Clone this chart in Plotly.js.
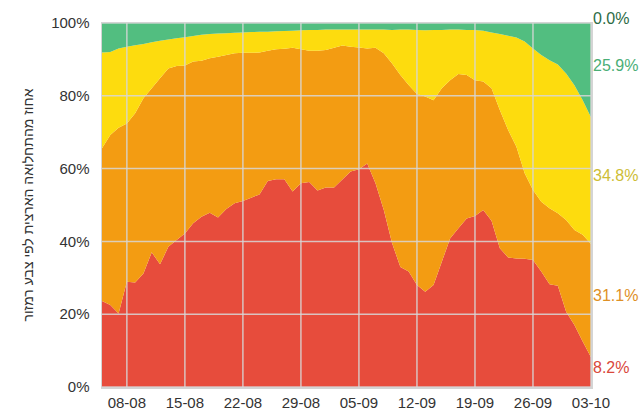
<!DOCTYPE html>
<html>
<head>
<meta charset="utf-8">
<script src="https://cdn.plot.ly/plotly-3.0.1.min.js"></script>
<style>html,body{margin:0;padding:0;background:#fff;}#chart{width:639px;height:412px;}</style>
</head>
<body>
<div id="chart"></div>
<script>
const dates = [
 "2020-08-05","2020-08-06","2020-08-07","2020-08-08","2020-08-09","2020-08-10","2020-08-11","2020-08-12","2020-08-13","2020-08-14",
 "2020-08-15","2020-08-16","2020-08-17","2020-08-18","2020-08-19","2020-08-20","2020-08-21","2020-08-22","2020-08-23","2020-08-24",
 "2020-08-25","2020-08-26","2020-08-27","2020-08-28","2020-08-29","2020-08-30","2020-08-31","2020-09-01","2020-09-02","2020-09-03",
 "2020-09-04","2020-09-05","2020-09-06","2020-09-07","2020-09-08","2020-09-09","2020-09-10","2020-09-11","2020-09-12","2020-09-13",
 "2020-09-14","2020-09-15","2020-09-16","2020-09-17","2020-09-18","2020-09-19","2020-09-20","2020-09-21","2020-09-22","2020-09-23",
 "2020-09-24","2020-09-25","2020-09-26","2020-09-27","2020-09-28","2020-09-29","2020-09-30","2020-10-01","2020-10-02","2020-10-03"
];
const red = [23.6,22.5,20.2,28.9,28.7,31.2,37.0,33.7,38.5,40.4,42.2,45.0,46.8,47.9,46.6,48.9,50.5,51.1,52.0,52.9,
 56.6,57.1,57.1,53.7,56.0,56.3,54.0,54.8,54.8,57.0,59.2,59.8,61.4,56.0,48.6,39.5,33.0,31.7,28.0,26.2,
 28.0,34.4,40.8,43.6,46.3,47.0,48.6,45.7,38.1,35.6,35.3,35.2,34.9,31.7,28.2,27.8,20.7,17.0,12.5,8.2];
const orange = [42.0,46.7,51.0,43.5,46.5,48.1,45.1,51.1,49.0,47.8,46.1,44.4,42.8,42.4,44.1,42.3,41.2,40.7,39.8,39.0,
 35.8,35.7,35.8,39.5,36.8,36.1,38.4,37.8,38.4,36.8,34.3,33.5,31.6,37.2,43.1,49.4,52.7,51.3,52.5,53.6,
 50.8,47.7,43.5,42.4,39.4,37.3,35.3,36.4,38.0,35.0,30.7,23.5,19.2,19.2,20.9,19.9,25.2,26.1,29.3,31.1];
const yellow = [26.3,22.8,21.8,21.1,18.7,14.9,12.6,10.3,8.0,7.6,7.8,7.0,7.2,6.7,6.4,6.0,5.6,5.6,5.7,5.7,
 5.2,4.9,4.9,4.7,5.2,5.7,5.7,5.6,5.0,4.4,4.7,4.9,5.2,5.0,6.5,9.2,12.5,15.2,17.6,18.2,
 19.3,16.0,13.9,12.2,12.4,13.8,14.0,15.3,20.9,25.9,30.0,36.2,38.9,40.3,40.7,40.9,40.2,39.8,37.0,34.8];
const green = [8.1,8.0,7.0,6.5,6.1,5.8,5.3,4.9,4.5,4.2,3.9,3.6,3.2,3.0,2.9,2.8,2.7,2.6,2.5,2.4,
 2.4,2.3,2.2,2.1,2.0,1.9,1.9,1.8,1.8,1.8,1.8,1.8,1.8,1.8,1.8,1.9,1.8,1.8,1.9,2.0,
 1.9,1.9,1.8,1.8,1.9,1.9,2.1,2.6,3.0,3.5,4.0,5.1,7.0,8.8,10.2,11.4,13.9,17.1,21.2,25.9];
const darkGreen = [0,0,0,0,0,0,0,0,0,0,0,0,0,0,0,0,0,0,0,0,0,0,0,0,0,0,0,0,0,0,
 0,0,0,0,0,0,0,0,0,0,0,0,0,0,0,0,0,0,0,0,0,0,0,0,0,0,0,0,0,0.0];

const xTicks = ["2020-08-08","2020-08-15","2020-08-22","2020-08-29","2020-09-05","2020-09-12","2020-09-19","2020-09-26","2020-10-03"];
const xTickLabels = ["08-08","15-08","22-08","29-08","05-09","12-09","19-09","26-09","03-10"];
const yTicks = [0,20,40,60,80,100];
const yTickLabels = ["0%","20%","40%","60%","80%","100%"];

const series = [
  {name:"אדום", values:red, fill:"#E74C3C", label:"#D9483B"},
  {name:"כתום", values:orange, fill:"#F39C12", label:"#DE9026"},
  {name:"צהוב", values:yellow, fill:"#FDDC0E", label:"#CDBD35"},
  {name:"ירוק", values:green, fill:"#52BE80", label:"#4AAE76"},
  {name:"ירוק כהה", values:darkGreen, fill:"#2E7D4F", label:"#2C6B45"}
];

const traces = series.map(s => ({
  x: dates, y: s.values, name: s.name, type: "scatter", mode: "none",
  stackgroup: "one", fill: "tonexty", fillcolor: s.fill, line: {width: 0},
  hoverinfo: "skip", showlegend: false
}));

const last = dates.length - 1;
let cum = 0;
const annotations = series.map(s => {
  const v = s.values[last];
  const mid = cum + v / 2;
  cum += v;
  return {
    xref: "paper", x: 1, yref: "y", y: mid, xanchor: "left", yanchor: "middle",
    yshift: 5, showarrow: false, text: v.toFixed(1) + "%",
    font: {family: "Liberation Sans, Arial, sans-serif", size: 16, color: s.label}
  };
});

const gridColor = "rgba(215,215,215,0.85)";
const shapes = [];
xTicks.forEach(d => shapes.push({type:"line", layer:"above", xref:"x", yref:"paper", x0:d, x1:d, y0:0, y1:1, line:{color:gridColor, width:1.5}}));
yTicks.forEach(v => shapes.push({type:"line", layer:"above", xref:"paper", yref:"y", x0:0, x1:1, y0:v, y1:v, line:{color:gridColor, width:1.5}}));

const layout = {
  width: 639, height: 412,
  margin: {l: 102, r: 48, t: 23, b: 25},
  paper_bgcolor: "#fff", plot_bgcolor: "#fff",
  font: {family: "Liberation Sans, Arial, sans-serif", size: 15, color: "#333"},
  xaxis: {
    type: "date", range: [dates[0], dates[last]],
    tickmode: "array", tickvals: xTicks, ticktext: xTickLabels, showgrid: false, zeroline: false,
    showline: true, mirror: true, linecolor: "#d4d4d4", linewidth: 1.5,
    ticks: "", ticklabelstandoff: 1, tickfont: {size: 15, color: "#333"}
  },
  yaxis: {
    range: [0, 100], tickmode: "array", tickvals: yTicks, ticktext: yTickLabels, showgrid: false, zeroline: false,
    showline: true, mirror: true, linecolor: "#d4d4d4", linewidth: 1.5,
    ticks: "", ticklabelstandoff: 8, tickfont: {size: 15, color: "#333"},
    title: {text: "אחוז מהתחלואה הארצית לפי צבע רמזור", font: {size: 14, color: "#333"}, standoff: 14}
  },
  shapes: shapes,
  annotations: annotations,
  showlegend: false
};

Plotly.newPlot("chart", traces, layout, {displayModeBar: false, staticPlot: true});
</script>
</body>
</html>
